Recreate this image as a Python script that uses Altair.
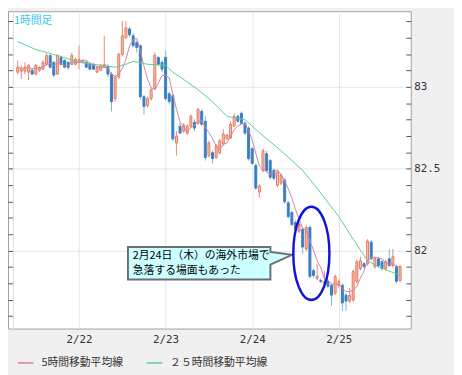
import altair as alt
import pandas as pd

# ---- data (hours counted from 2/22 00:00, one candle per hour) ----
hours = list(range(-17, 90))
opens = [83.09, 83.096, 83.096, 83.09, 83.102, 83.078, 83.102, 83.108, 83.138, 83.192,
         83.15, 83.078, 83.18, 83.162, 83.15, 83.138, 83.138, 83.15, 83.15, 83.15,
         83.138, 83.138, 83.09, 83.102, 83.12, 83.126, 83.078, 82.928, 83.06, 83.198,
         83.30, 83.354, 83.312, 83.27, 83.252, 82.94, 82.886, 82.928, 82.988, 83.18,
         83.15, 83.18, 82.958, 82.946, 82.658, 82.76, 82.73, 82.718, 82.76, 82.784,
         82.778, 82.85, 82.79, 82.58, 82.598, 82.568, 82.598, 82.652, 82.682, 82.688,
         82.76, 82.82, 82.838, 82.778, 82.748, 82.622, 82.52, 82.358, 82.49, 82.592,
         82.55, 82.49, 82.40, 82.412, 82.43, 82.292, 82.232, 82.172, 82.118, 82.13,
         82.01, 82.142, 81.878, 81.83, 81.818, 81.80, 81.812, 81.788, 81.74, 81.788,
         81.788, 81.728, 81.692, 81.698, 81.812, 81.89, 81.92, 81.92, 82.052, 81.902,
         81.95, 81.932, 81.89, 81.95, 81.908, 81.902, 81.818]
closes = [83.12, 83.108, 83.12, 83.132, 83.078, 83.132, 83.12, 83.15, 83.192, 83.12,
          83.072, 83.192, 83.138, 83.12, 83.12, 83.192, 83.168, 83.168, 83.162, 83.12,
          83.108, 83.108, 83.12, 83.132, 83.138, 83.078, 82.91, 83.06, 83.198, 83.312,
          83.36, 83.318, 83.252, 83.24, 82.94, 82.88, 82.928, 82.982, 83.192, 83.138,
          83.108, 82.928, 82.91, 82.682, 82.70, 82.718, 82.766, 82.76, 82.82, 82.748,
          82.862, 82.772, 82.568, 82.658, 82.562, 82.64, 82.67, 82.712, 82.706, 82.772,
          82.82, 82.79, 82.778, 82.718, 82.562, 82.532, 82.382, 82.394, 82.61, 82.49,
          82.448, 82.442, 82.478, 82.46, 82.298, 82.208, 82.16, 82.13, 82.16, 82.022,
          82.142, 81.842, 81.848, 81.842, 81.812, 81.812, 81.782, 81.728, 81.842, 81.812,
          81.68, 81.692, 81.728, 81.872, 81.932, 81.938, 81.902, 82.058, 81.95, 81.95,
          81.908, 81.89, 81.932, 81.908, 81.962, 81.812, 81.902]
highs = [83.162, 83.132, 83.15, 83.138, 83.108, 83.138, 83.126, 83.162, 83.204, 83.198,
         83.156, 83.198, 83.186, 83.168, 83.156, 83.21, 83.18, 83.252, 83.168, 83.156,
         83.15, 83.144, 83.126, 83.138, 83.312, 83.138, 83.09, 83.072, 83.21, 83.402,
         83.402, 83.366, 83.33, 83.282, 83.258, 82.952, 82.94, 82.994, 83.21, 83.186,
         83.162, 83.222, 82.97, 82.958, 82.73, 82.778, 82.778, 82.772, 82.832, 82.802,
         82.874, 82.862, 82.82, 82.67, 82.61, 82.652, 82.682, 82.742, 82.712, 82.79,
         82.838, 82.832, 82.85, 82.79, 82.76, 82.634, 82.532, 82.406, 82.622, 82.61,
         82.562, 82.502, 82.49, 82.472, 82.442, 82.304, 82.244, 82.184, 82.172, 82.142,
         82.154, 82.154, 81.89, 81.92, 81.83, 81.878, 81.824, 81.80, 81.854, 81.824,
         81.80, 81.74, 81.77, 81.884, 81.944, 81.962, 81.932, 82.07, 82.064, 81.962,
         81.962, 81.944, 81.944, 82.01, 82.01, 81.914, 81.914]
lows = [83.078, 83.048, 83.078, 83.042, 83.072, 83.072, 83.09, 83.102, 83.132, 83.114,
        83.06, 83.072, 83.132, 83.114, 83.102, 83.132, 83.132, 83.108, 83.144, 83.114,
        83.102, 83.102, 83.084, 83.096, 83.114, 83.06, 82.85, 82.91, 83.048, 83.186,
        83.294, 83.306, 83.24, 83.21, 82.922, 82.832, 82.874, 82.916, 82.982, 83.126,
        83.09, 82.916, 82.892, 82.67, 82.58, 82.712, 82.718, 82.706, 82.748, 82.73,
        82.766, 82.76, 82.55, 82.568, 82.532, 82.562, 82.586, 82.64, 82.676, 82.682,
        82.754, 82.784, 82.772, 82.706, 82.55, 82.526, 82.37, 82.322, 82.478, 82.478,
        82.436, 82.43, 82.388, 82.40, 82.286, 82.196, 82.148, 82.118, 82.106, 81.98,
        81.998, 81.83, 81.836, 81.818, 81.80, 81.782, 81.77, 81.662, 81.728, 81.77,
        81.632, 81.632, 81.68, 81.686, 81.80, 81.878, 81.89, 81.908, 81.938, 81.89,
        81.896, 81.878, 81.878, 81.902, 81.896, 81.80, 81.806]

ma25_hours = [-17, -12, -6, 0, 6, 10, 13, 15, 19, 24, 26, 30, 33, 37, 41, 46, 50, 56,
              62, 67, 72, 76, 80, 83, 89]
ma25_values = [83.276, 83.228, 83.192, 83.15, 83.132, 83.12, 83.138, 83.156, 83.138,
               83.132, 83.09, 83.03, 82.982, 82.91, 82.82, 82.80, 82.72, 82.61, 82.49,
               82.352, 82.208, 82.07, 81.938, 81.902, 81.848]

day_ticks = [0, 24, 48, 72]
day_labels = ["2/22", "2/23", "2/24", "2/25"]
price_ticks = [81.6, 81.7, 81.8, 81.9, 82.0, 82.1, 82.2, 82.3, 82.4, 82.5,
               82.6, 82.7, 82.8, 82.9, 83.0, 83.1, 83.2, 83.3, 83.4]
price_labels = ["82", "82.5", "83"]

legend_names = ["5時間移動平均線", "２５時間移動平均線"]
legend_colors = ["#cf84a4", "#5ccf92"]
note_lines = ["2月24日（木）の海外市場で", "急落する場面もあった"]
chart_title = "1時間足"

# annotation anchors (in data units: hour, price)
note_box = {"h": [36.3], "v": [81.923]}
note_text = {"h": [14.9, 14.9], "v": [81.968, 81.878], "t": note_lines}
ellipse_at = {"h": [64.4], "v": [81.983]}

UP_BODY, UP_EDGE, UP_WICK = "#f7c3b3", "#e4785e", "#e98a72"
DN_BODY, DN_WICK = "#3b7ec2", "#7db1de"
JP = "Noto Sans CJK JP"
MONO = "DejaVu Sans Mono"

df = pd.DataFrame({"h": hours, "open": opens, "close": closes, "high": highs, "low": lows})
df25 = pd.DataFrame({"h": ma25_hours, "v": ma25_values})

xs = alt.Scale(domain=[-18.33, 90.6], nice=False, zero=False)
ys = alt.Scale(domain=[81.524, 83.462], nice=False, zero=False)

label_expr = " : ".join(f"datum.value == {t} ? '{l}'" for t, l in zip(day_ticks, day_labels)) + " : ''"
xaxis = alt.Axis(values=day_ticks, labelExpr=label_expr, grid=True, gridColor="#e6e6e6",
                 ticks=False, domain=False, labelPadding=5, labelFont=MONO,
                 labelFontSize=11, labelColor="#333333", title=None)
X = alt.X("h:Q", scale=xs, axis=xaxis)

major_test = "abs(datum.value*2 - round(datum.value*2)) < 0.01"
left_axis = alt.Axis(orient="left", values=price_ticks, offset=-5, tickSize=5, labels=False,
                     domain=True, domainColor="#dcdcdc", tickColor="#555555", title=None,
                     grid=True,
                     gridColor={"condition": {"test": major_test, "value": "#e6e6e6"},
                                "value": "rgba(0,0,0,0)"})
price_expr = "indexof(" + str(price_labels) + ", datum.label) >= 0 ? datum.label : ''"
right_axis = alt.Axis(orient="right", values=price_ticks, offset=-5, tickSize=5, domain=False,
                      grid=False, format="~g", labelExpr=price_expr, labelPadding=3,
                      labelFont=MONO, labelFontSize=11, labelColor="#333333",
                      tickColor="#555555", title=None)

up = "datum.close >= datum.open"
base = alt.Chart(df)

wicks = base.mark_rule(strokeWidth=1).encode(
    x=X, y=alt.Y("low:Q", scale=ys, axis=left_axis), y2="high:Q",
    stroke=alt.condition(up, alt.value(UP_WICK), alt.value(DN_WICK)))

bodies = base.mark_bar(size=2, strokeWidth=1).encode(
    x=X, y=alt.Y("open:Q", scale=ys, axis=None), y2="close:Q",
    fill=alt.condition(up, alt.value(UP_BODY), alt.value(DN_BODY)),
    stroke=alt.condition(up, alt.value(UP_EDGE), alt.value(DN_BODY)))

color_scale = alt.Scale(domain=legend_names, range=legend_colors)
legend = alt.Legend(orient="none", legendX=9, legendY=349, direction="horizontal", title=None,
                    symbolType="stroke", symbolSize=256, symbolStrokeWidth=1.5,
                    labelFont=JP, labelFontSize=11, labelColor="#333333", labelOffset=7,
                    columnPadding=20)
series_color = alt.Color("series:N", scale=color_scale, legend=legend)

ma5 = base.transform_window(
    ma5="mean(close)", frame=[-4, 0], sort=[alt.SortField("h")]
).transform_calculate(series=f"'{legend_names[0]}'").mark_line(strokeWidth=1).encode(
    x=X, y=alt.Y("ma5:Q", scale=ys, axis=None), color=series_color)

ma25 = alt.Chart(df25).transform_calculate(series=f"'{legend_names[1]}'").mark_line(
    strokeWidth=1).encode(
    x=X, y=alt.Y("v:Q", scale=ys, axis=right_axis), color=series_color)

box_path = ("M-1,-0.1976 L0.7365,-0.1976 L0.7365,-0.1377 L1,-0.1018 L0.7365,0.018 "
            "L0.7365,0.1976 L-1,0.1976 Z")
callout = alt.Chart(pd.DataFrame(note_box)).mark_point(
    shape=box_path, size=27889, filled=True, fill="#ccffff", stroke="#6e6e6e",
    strokeWidth=2, opacity=1, fillOpacity=1).encode(
    x=X, y=alt.Y("v:Q", scale=ys, axis=None))

texts = alt.Chart(pd.DataFrame(note_text)).mark_text(
    align="left", baseline="middle", font=JP, fontSize=11, color="#000000").encode(
    x=X, y=alt.Y("v:Q", scale=ys, axis=None), text="t:N")

ellipse_path = "M-0.387,0 A0.387,1 0 1,1 0.387,0 A0.387,1 0 1,1 -0.387,0 Z"
ellipse = alt.Chart(pd.DataFrame(ellipse_at)).mark_point(
    shape=ellipse_path, size=9025, filled=False, stroke="#1212e0", strokeWidth=2.5,
    opacity=1).encode(x=X, y=alt.Y("v:Q", scale=ys, axis=None))

chart = alt.layer(wicks, bodies, ma25, ma5, callout, texts, ellipse).resolve_axis(
    y="independent").properties(
    width=410, height=323,
    padding={"left": 0, "top": 0, "right": 44, "bottom": 44},
    autosize=alt.AutoSizeParams(type="none"),
    background="#f0f0f0",
    title=alt.TitleParams(chart_title, anchor="start", orient="top", frame="group",
                          offset=-15, dx=6, fontSize=11, fontWeight="normal",
                          color="#3ec3ef", font=JP),
).configure_view(stroke="#a0a0a0", strokeWidth=1, fill="white")

chart.save("out.html", embed_options={"renderer": "svg", "actions": False})
